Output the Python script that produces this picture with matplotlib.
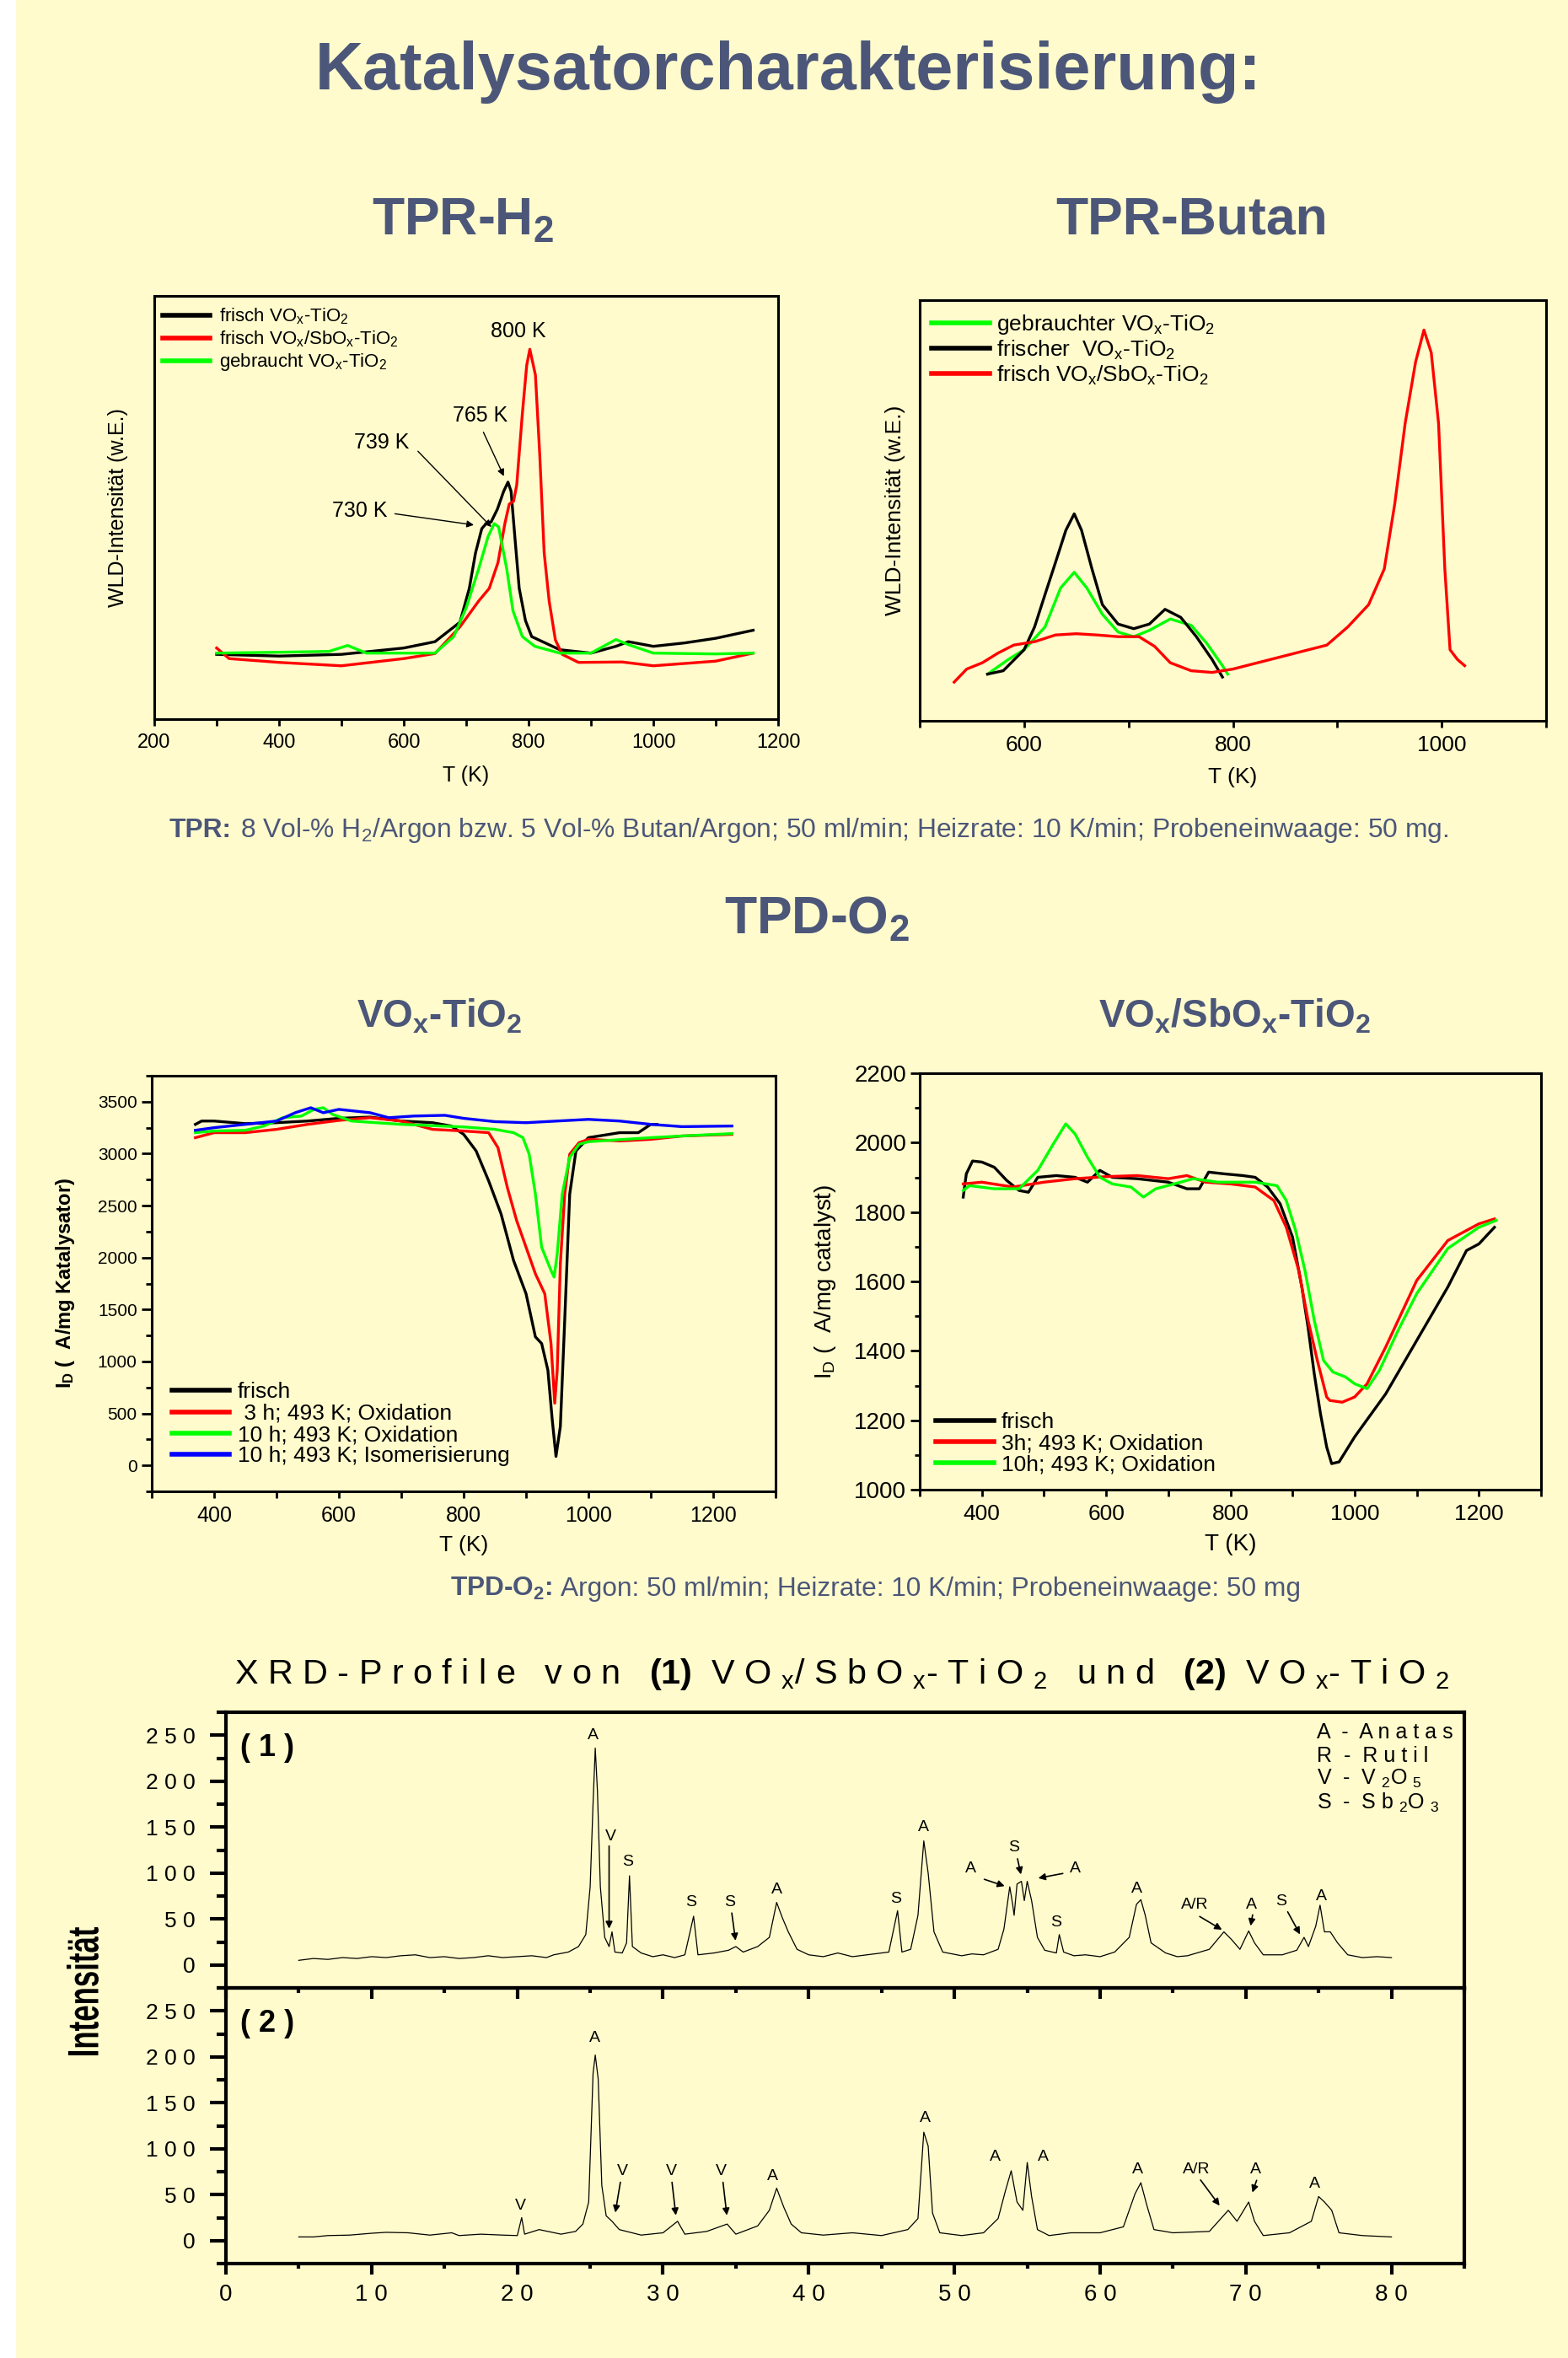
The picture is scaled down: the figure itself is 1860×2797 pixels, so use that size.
import numpy as np
import matplotlib
matplotlib.use('Agg')
import matplotlib.pyplot as plt
from matplotlib.font_manager import FontProperties
from matplotlib.textpath import TextPath
from matplotlib.patches import PathPatch, Rectangle
from matplotlib.transforms import Affine2D, IdentityTransform
from matplotlib.ticker import MultipleLocator, FuncFormatter

plt.rcParams['font.family'] = ['Liberation Sans', 'DejaVu Sans']
plt.rcParams['mathtext.fontset'] = 'custom'
plt.rcParams['mathtext.rm'] = 'Liberation Sans'
plt.rcParams['mathtext.bf'] = 'Liberation Sans:bold'
plt.rcParams['mathtext.it'] = 'Liberation Sans:italic'
plt.rcParams['mathtext.default'] = 'regular'

# TPR-H2: (T in K, signal in arbitrary units 0..100)
h2_frisch = [(300, 15.3), (400, 14.9), (500, 15.3), (600, 16.8), (650, 18.3), (690, 22.9),
             (705, 30.9), (715, 39.3), (725, 45.0), (732, 46.2), (740, 46.6), (750, 49.6),
             (760, 53.8), (767, 56.0), (772, 53.8), (778, 43.1), (785, 30.9), (795, 23.3),
             (805, 19.5), (850, 16.4), (900, 15.6), (940, 17.2), (960, 18.3), (1000, 17.2),
             (1050, 18.0), (1100, 19.1), (1160, 21.0)]
h2_sb = [(300, 16.8), (320, 14.3), (400, 13.4), (500, 12.6), (600, 14.3), (650, 15.5),
         (690, 21.8), (720, 27.9), (737, 30.9), (751, 37.0), (762, 46.2), (769, 50.8),
         (776, 51.5), (781, 55.3), (790, 72.1), (797, 83.6), (802, 87.4), (811, 81.3),
         (818, 62.2), (825, 39.3), (833, 27.9), (843, 18.7), (854, 15.3), (880, 13.4),
         (950, 13.5), (1000, 12.6), (1100, 13.7), (1160, 15.6)]
h2_gebraucht = [(300, 15.6), (400, 15.8), (480, 16.0), (510, 17.4), (540, 15.6), (600, 15.6),
                (650, 15.6), (680, 19.5), (700, 26.3), (720, 35.5), (735, 43.1), (745, 46.2),
                (752, 45.4), (765, 35.5), (775, 25.6), (790, 19.5), (810, 17.2), (850, 15.6),
                (900, 15.6), (940, 18.8), (960, 17.6), (1000, 15.6), (1100, 15.4), (1160, 15.6)]
h2_peaks = [('800 K', 783, 91.6, None, None), ('765 K', 723, 71.8, (726, 68.3), (762, 56.9)),
            ('739 K', 565, 65.3, (620, 63.7), (743, 45.0)), ('730 K', 529, 49.2, (582, 48.6), (716, 45.8))]

# TPR-Butan
bu_gebraucht = [(565, 11.1), (585, 14.6), (600, 16.9), (620, 22.3), (635, 31.6), (648, 35.3),
                (660, 31.6), (675, 25.3), (690, 21.1), (705, 20.0), (720, 21.5), (740, 24.2),
                (760, 22.7), (775, 18.4), (790, 13.1), (795, 11.1)]
bu_frisch = [(565, 11.1), (580, 11.9), (600, 16.9), (610, 22.3), (620, 30.0), (630, 37.6),
             (640, 45.3), (648, 49.2), (655, 45.3), (665, 36.1), (675, 27.6), (690, 23.0),
             (705, 21.9), (720, 23.0), (735, 26.5), (750, 24.6), (765, 20.0), (780, 14.6), (790, 10.4)]
bu_sb = [(533, 9.2), (545, 12.3), (560, 13.8), (575, 16.1), (590, 18.0), (610, 18.8), (630, 20.4),
         (650, 20.7), (670, 20.4), (690, 20.0), (710, 20.0), (725, 17.7), (740, 13.8), (760, 11.9),
         (780, 11.5), (800, 12.3), (830, 14.2), (860, 16.1), (890, 18.0), (910, 22.3), (930, 27.6),
         (945, 36.1), (955, 51.5), (965, 70.7), (975, 85.3), (983, 92.9), (990, 87.5), (997, 70.7),
         (1003, 36.1), (1008, 16.9), (1015, 14.6), (1022, 13.1)]

# TPD-O2 on VOx-TiO2 (T in K, I_D)
vt_frisch = [(370, 3282), (380, 3314), (400, 3314), (450, 3289), (500, 3298), (550, 3314),
             (600, 3340), (650, 3352), (700, 3314), (750, 3298), (780, 3266), (800, 3186),
             (820, 3026), (840, 2739), (860, 2419), (880, 1972), (900, 1652), (915, 1237),
             (925, 1173), (935, 917), (942, 438), (948, 86), (955, 374), (962, 1397), (970, 2611),
             (980, 3026), (1000, 3154), (1050, 3202), (1080, 3202), (1100, 3282), (1110, 3282)]
vt_3h = [(370, 3154), (400, 3202), (450, 3202), (500, 3234), (550, 3282), (600, 3320), (650, 3346),
         (700, 3314), (750, 3234), (800, 3218), (840, 3202), (855, 3058), (870, 2675), (885, 2355),
         (900, 2100), (915, 1844), (930, 1652), (940, 1173), (946, 598), (950, 917), (955, 1940),
         (962, 2611), (970, 2995), (985, 3106), (1000, 3138), (1050, 3122), (1100, 3138),
         (1150, 3170), (1230, 3186)]
vt_10h = [(370, 3202), (400, 3218), (450, 3225), (480, 3266), (510, 3346), (540, 3362), (560, 3426),
          (575, 3442), (590, 3378), (620, 3314), (700, 3282), (800, 3257), (850, 3234), (880, 3202),
          (895, 3154), (905, 2995), (915, 2611), (925, 2100), (940, 1876), (945, 1812), (950, 2036),
          (958, 2611), (970, 2963), (985, 3090), (1000, 3115), (1100, 3154), (1150, 3170), (1230, 3193)]
vt_iso = [(370, 3225), (400, 3250), (450, 3282), (500, 3314), (530, 3394), (555, 3442), (575, 3394),
          (600, 3426), (650, 3394), (680, 3346), (720, 3362), (770, 3369), (800, 3340), (850, 3308),
          (900, 3298), (1000, 3330), (1050, 3314), (1100, 3282), (1150, 3260), (1230, 3266)]

# TPD-O2 on VOx/SbOx-TiO2
vs_frisch = [(370, 1843), (375, 1910), (385, 1947), (400, 1944), (420, 1929), (440, 1891), (460, 1862),
             (475, 1857), (490, 1900), (520, 1905), (550, 1900), (570, 1886), (590, 1920), (610, 1900),
             (650, 1896), (700, 1886), (730, 1867), (750, 1867), (765, 1915), (790, 1910), (820, 1905),
             (840, 1900), (860, 1872), (880, 1824), (900, 1728), (915, 1584), (925, 1468), (935, 1334),
             (945, 1219), (955, 1123), (963, 1075), (975, 1080), (1000, 1152), (1050, 1276),
             (1100, 1430), (1150, 1584), (1180, 1689), (1200, 1708), (1225, 1756)]
vs_3h = [(370, 1881), (400, 1886), (450, 1872), (500, 1886), (550, 1896), (600, 1902), (650, 1905),
         (700, 1896), (730, 1905), (760, 1886), (800, 1881), (840, 1872), (870, 1833), (890, 1756),
         (910, 1632), (925, 1488), (940, 1372), (955, 1267), (960, 1257), (980, 1252), (1000, 1267),
         (1020, 1305), (1050, 1411), (1100, 1603), (1150, 1718), (1200, 1766), (1225, 1780)]
vs_10h = [(370, 1862), (380, 1876), (420, 1867), (460, 1867), (490, 1920), (515, 1996), (535, 2054),
          (550, 2025), (570, 1958), (590, 1900), (610, 1881), (640, 1872), (660, 1843), (680, 1867),
          (720, 1886), (740, 1896), (780, 1886), (840, 1886), (875, 1876), (890, 1833), (905, 1747),
          (920, 1632), (935, 1488), (950, 1372), (965, 1339), (985, 1325), (1000, 1305), (1020, 1291),
          (1040, 1344), (1070, 1459), (1100, 1565), (1150, 1695), (1200, 1756), (1228, 1776)]

# XRD (2 theta, intensity)
xrd1 = [(5.0, 5), (6, 7), (7, 6), (8, 8), (9, 7), (10, 9), (11, 8), (12, 10), (13, 11), (14, 8),
        (15, 9), (16, 7), (17, 8), (18, 10), (19, 8), (20, 9), (21, 10), (22, 8), (22.5, 11), (23.5, 14),
        (24.2, 20), (24.7, 33), (25.0, 85), (25.2, 176), (25.35, 236), (25.5, 189), (25.7, 85),
        (26.0, 30), (26.3, 20), (26.5, 36), (26.7, 14), (27.2, 13), (27.5, 24), (27.7, 97), (27.9, 20),
        (28.5, 13), (29.3, 9), (30, 11), (30.8, 8), (31.5, 11), (32.1, 53), (32.4, 11), (33.5, 13),
        (34.5, 16), (35.0, 20), (35.5, 14), (36.5, 20), (37.3, 30), (37.8, 68), (38.2, 51), (38.6, 36),
        (39.2, 17), (40, 11), (41, 9), (42, 13), (43, 9), (44, 11), (45.5, 14), (46.1, 59), (46.4, 14),
        (47.0, 17), (47.5, 54), (47.9, 135), (48.2, 100), (48.6, 36), (49.2, 14), (50.5, 10), (51.2, 12),
        (52, 11), (53.0, 17), (53.4, 39), (53.8, 85), (54.0, 66), (54.1, 54), (54.3, 88), (54.6, 91),
        (54.8, 70), (55.0, 91), (55.3, 70), (55.7, 30), (56.2, 16), (57.0, 13), (57.2, 33), (57.5, 14),
        (58.2, 10), (59, 11), (60, 9), (61, 14), (62.0, 30), (62.5, 66), (62.8, 71), (63.1, 54),
        (63.5, 24), (64.5, 13), (65.3, 9), (66, 10), (67.5, 17), (68.5, 36), (69.0, 28), (69.6, 17),
        (70.2, 37), (70.6, 24), (71.2, 11), (72.5, 11), (73.5, 16), (74.0, 30), (74.3, 20), (74.8, 42),
        (75.1, 65), (75.4, 36), (75.8, 36), (76.3, 24), (77, 11), (78, 8), (79, 9), (80, 8)]
xrd2 = [(5.0, 4), (6, 4), (7, 5.5), (8.5, 6), (10, 8), (11, 9), (12.5, 8.5), (14, 6), (15.5, 8.5),
        (16, 5.5), (17.5, 7), (19, 6), (20.0, 5.5), (20.3, 25), (20.5, 7), (21.5, 12), (23, 7), (24, 10),
        (24.5, 18), (24.9, 42), (25.2, 182), (25.35, 202), (25.55, 176), (25.8, 60), (26.1, 27),
        (26.5, 21), (27, 12), (28.5, 6), (30, 8.5), (31.0, 21), (31.5, 7), (33, 10), (34.4, 18), (35, 7),
        (36.5, 16), (37.3, 33), (37.8, 57), (38.3, 36), (38.8, 18), (39.5, 8.5), (41, 6), (43, 8.5),
        (45, 5.5), (46.8, 12), (47.5, 24), (47.9, 118), (48.2, 103), (48.5, 30), (49, 8.5), (50.5, 5.5),
        (52, 8.5), (53.0, 24), (53.5, 54), (53.9, 76), (54.3, 42), (54.7, 33), (55.0, 85), (55.3, 48),
        (55.7, 12), (56.5, 5.5), (58, 8.5), (60, 8.5), (61.6, 15), (62.4, 51), (62.8, 63), (63.2, 39),
        (63.7, 12), (65, 8.5), (67.5, 10), (68.8, 33), (69.4, 21), (70.2, 42), (70.6, 21), (71.2, 5.5),
        (73, 8.5), (74.5, 21), (75.0, 48), (75.4, 42), (75.9, 33), (76.4, 8.5), (78, 5.5), (80, 4)]
xrd1_marks = [('A', 25.2, 250), ('V', 26.4, 140), ('S', 27.6, 112), ('S', 31.9, 68), ('S', 34.6, 68),
              ('A', 37.8, 82), ('S', 46.0, 72), ('A', 47.9, 150), ('A', 51.1, 105), ('S', 54.1, 128),
              ('A', 58.3, 105), ('S', 57.0, 46), ('A', 62.5, 83), ('A/R', 66.5, 65), ('A', 70.4, 65),
              ('S', 72.4, 69), ('A', 75.2, 75)]
xrd1_arrows = [((26.3, 132), (26.3, 37)), ((34.7, 59), (35.0, 24)), ((51.9, 94), (53.6, 85)),
               ((54.3, 118), (54.6, 96)), ((57.6, 100), (55.6, 94)), ((66.7, 54), (68.5, 37)),
               ((70.5, 57), (70.3, 40)), ((72.8, 60), (73.8, 31))]
xrd2_marks = [('V', 20.2, 37.5), ('A', 25.3, 220), ('V', 27.2, 75.6), ('V', 30.6, 75.6), ('V', 34.0, 75.6),
              ('A', 37.5, 70), ('A', 48.0, 133.5), ('A', 52.8, 91), ('A', 56.1, 91), ('A', 62.6, 77),
              ('A/R', 66.6, 77), ('A', 70.7, 77), ('A', 74.7, 62)]
xrd2_arrows = [((27.1, 66), (26.7, 28)), ((30.6, 66), (30.9, 25)), ((34.1, 66), (34.4, 25)),
               ((66.8, 68), (68.3, 36)), ((70.8, 68), (70.4, 50))]
phases = ['A  -  A n a t a s', 'R  -  R u t i l', 'V  -  V $_2$O $_5$', 'S  -  S b $_2$O $_3$']

# ---------------- figure ----------------
W, H = 1860, 2797
BG = '#FFFBCC'
SLATE = '#4B5679'

fig = plt.figure(figsize=(W / 100, H / 100), dpi=100, facecolor=BG)
fig.add_artist(Rectangle((0, 0), 18 / W, 1, transform=fig.transFigure, color='white', zorder=0))
renderer = fig.canvas.get_renderer()


def place(l, t, r, b):
    ax = fig.add_axes([l / W, 1 - b / H, (r - l) / W, (b - t) / H])
    ax.set_facecolor('none')
    return ax


def xy(pairs):
    a = np.array(pairs, dtype=float)
    return a[:, 0], a[:, 1]


def head(x, y, s, size, ha='left'):
    fig.text(x / W, 1 - y / H, s, fontsize=size, fontweight='bold', color=SLATE, ha=ha, va='baseline')


def note(x, y, bold, rest, size):
    # bold lead-in followed by regular text on the same baseline
    t = fig.text(x / W, 1 - y / H, bold, fontsize=size, fontweight='bold', color=SLATE, va='baseline')
    x += t.get_window_extent(renderer).width + 0.3 * size * 100 / 72
    fig.text(x / W, 1 - y / H, rest, fontsize=size, color=SLATE, va='baseline')


head(935, 106, 'Katalysatorcharakterisierung:', 57, 'center')
head(441, 278, 'TPR-H$_2$', 45)
head(1414, 278, 'TPR-Butan', 45, 'center')
head(859, 1107, 'TPD-O$_2$', 45)
head(423, 1218, 'VO$_x$-TiO$_2$', 33)
head(1303, 1218, 'VO$_x$/SbO$_x$-TiO$_2$', 33)

note(201, 993, 'TPR:', '8 Vol-% H$_2$/Argon bzw. 5 Vol-% Butan/Argon; 50 ml/min; '
     'Heizrate: 10 K/min; Probeneinwaage: 50 mg.', 22.9)
note(534, 1893, 'TPD-O$_2$:', 'Argon: 50 ml/min; Heizrate: 10 K/min; Probeneinwaage: 50 mg', 22.8)


def frame(ax, lw=2.2):
    for s in ax.spines.values():
        s.set_linewidth(lw)


def legend(ax, loc, anchor, size, hl, pad, spacing):
    leg = ax.legend(loc=loc, bbox_to_anchor=anchor, frameon=False, fontsize=size, handlelength=hl,
                    handletextpad=pad, labelspacing=spacing, borderpad=0, borderaxespad=0)
    for ln in leg.get_lines():
        ln.set_linewidth(4)
    return leg


# ---- TPR-H2 ----
ax = place(183, 351, 923, 853)
for pairs, c, lab in [(h2_frisch, 'black', 'frisch VO$_x$-TiO$_2$'),
                      (h2_sb, 'red', 'frisch VO$_x$/SbO$_x$-TiO$_2$'),
                      (h2_gebraucht, '#00FF00', 'gebraucht VO$_x$-TiO$_2$')]:
    ax.plot(*xy(pairs), color=c, lw=2.4, label=lab)
for lab, tx, ty, tail, tip in h2_peaks:
    ax.text(tx, ty, lab, fontsize=18, ha='center', va='center')
    if tail:
        ax.annotate('', xy=tip, xytext=tail,
                    arrowprops=dict(arrowstyle='-|>', color='black', lw=1, mutation_scale=12))
ax.set_xlim(200, 1200)
ax.set_ylim(0, 100)
ax.xaxis.set_major_locator(MultipleLocator(200))
ax.xaxis.set_minor_locator(MultipleLocator(100))
ax.tick_params(axis='x', which='both', direction='out', length=6, width=2, labelsize=17, pad=6)
ax.tick_params(axis='y', left=False, labelleft=False)
ax.set_xlabel('T (K)', fontsize=18, labelpad=12)
ax.set_ylabel('WLD-Intensität (w.E.)', fontsize=18, labelpad=22)
frame(ax)
legend(ax, 'upper left', (0.0135, 0.975), 16, 2.5, 0.5, 0.15)

# ---- TPR-Butan ----
ax = place(1091, 356, 1834, 855)
for pairs, c, lab in [(bu_gebraucht, '#00FF00', 'gebrauchter VO$_x$-TiO$_2$'),
                      (bu_frisch, 'black', 'frischer  VO$_x$-TiO$_2$'),
                      (bu_sb, 'red', 'frisch VO$_x$/SbO$_x$-TiO$_2$')]:
    ax.plot(*xy(pairs), color=c, lw=2.4, label=lab)
ax.set_xlim(500, 1100)
ax.set_ylim(0, 100)
ax.xaxis.set_major_locator(MultipleLocator(200))
ax.xaxis.set_minor_locator(MultipleLocator(100))
ax.tick_params(axis='x', which='both', direction='out', length=6, width=2, labelsize=19, pad=6)
ax.tick_params(axis='y', left=False, labelleft=False)
ax.set_xlabel('T (K)', fontsize=19, labelpad=10)
ax.set_ylabel('WLD-Intensität (w.E.)', fontsize=19, labelpad=12)
frame(ax)
legend(ax, 'upper left', (0.019, 0.97), 19, 2.6, 0.3, 0.1)

# ---- TPD VOx-TiO2 ----
ax = place(180, 1276, 920, 1769)
for pairs, c, lab in [(vt_frisch, 'black', 'frisch'), (vt_3h, 'red', ' 3 h; 493 K; Oxidation'),
                      (vt_10h, '#00FF00', '10 h; 493 K; Oxidation'),
                      (vt_iso, 'blue', '10 h; 493 K; Isomerisierung')]:
    ax.plot(*xy(pairs), color=c, lw=2.4, label=lab)
ax.set_xlim(300, 1300)
ax.set_ylim(-250, 3750)
ax.xaxis.set_major_locator(MultipleLocator(200))
ax.xaxis.set_minor_locator(MultipleLocator(100))
ax.yaxis.set_major_locator(MultipleLocator(500))
ax.yaxis.set_minor_locator(MultipleLocator(250))
ax.tick_params(axis='x', which='both', direction='out', length=6, width=2, labelsize=18, pad=6)
ax.tick_params(axis='y', which='major', direction='out', length=9, width=2, labelsize=15)
ax.tick_params(axis='y', which='minor', direction='out', length=5, width=2)
ax.set_xlabel('T (K)', fontsize=19, labelpad=8)
ax.set_ylabel('I$_D$ (  A/mg Katalysator)', fontsize=17, fontweight='bold', labelpad=18)
frame(ax)
legend(ax, 'lower left', (0.032, 0.06), 19, 2.6, 0.35, 0.05)

# ---- TPD VOx/SbOx-TiO2 ----
ax = place(1091, 1273, 1828, 1767)
for pairs, c, lab in [(vs_frisch, 'black', 'frisch'), (vs_3h, 'red', '3h; 493 K; Oxidation'),
                      (vs_10h, '#00FF00', '10h; 493 K; Oxidation')]:
    ax.plot(*xy(pairs), color=c, lw=2.4, label=lab)
ax.set_xlim(300, 1300)
ax.set_ylim(1000, 2200)
ax.xaxis.set_major_locator(MultipleLocator(200))
ax.xaxis.set_minor_locator(MultipleLocator(100))
ax.yaxis.set_major_locator(MultipleLocator(200))
ax.yaxis.set_minor_locator(MultipleLocator(100))
ax.tick_params(axis='x', which='both', direction='out', length=6, width=2, labelsize=19, pad=6)
ax.tick_params(axis='y', which='major', direction='out', length=8, width=2, labelsize=20)
ax.tick_params(axis='y', which='minor', direction='out', length=4, width=2)
ax.set_xlabel('T (K)', fontsize=20, labelpad=8)
ax.set_ylabel('I$_D$ (  A/mg catalyst)', fontsize=20, labelpad=14)
frame(ax)
legend(ax, 'lower left', (0.026, 0.035), 19, 2.6, 0.35, 0.05)

# ---- XRD ----
fig.text(278 / W, 1 - 1997 / H,
         r'X R D - P r o f i l e   v o n   $\mathbf{(1)}$  V O $_x$/ S b O $_x$- T i O $_2$   u n d   '
         r'$\mathbf{(2)}$  V O $_x$- T i O $_2$', fontsize=29.8, va='baseline')

spaced = FuncFormatter(lambda v, p: ' '.join(f'{v:.0f}'))
ax1 = place(268, 2031, 1737, 2358)
ax2 = place(268, 2358, 1737, 2685)
for ax, pairs, marks, arrows, tag in [(ax1, xrd1, xrd1_marks, xrd1_arrows, '( 1 )'),
                                      (ax2, xrd2, xrd2_marks, xrd2_arrows, '( 2 )')]:
    ax.plot(*xy(pairs), color='black', lw=0.9)
    for lab, mx, my in marks:
        ax.text(mx, my, lab, fontsize=14, ha='center', va='center')
    for tail, tip in arrows:
        ax.annotate('', xy=tip, xytext=tail,
                    arrowprops=dict(arrowstyle='-|>', color='black', lw=1.2, mutation_scale=12))
    ax.text(1.0, 236, tag, fontsize=26, fontweight='bold', va='center')
    ax.set_xlim(0, 85)
    ax.set_ylim(-25, 275)
    ax.xaxis.set_major_locator(MultipleLocator(10))
    ax.xaxis.set_minor_locator(MultipleLocator(5))
    ax.yaxis.set_major_locator(MultipleLocator(50))
    ax.yaxis.set_minor_locator(MultipleLocator(25))
    ax.yaxis.set_major_formatter(spaced)
    ax.xaxis.set_major_formatter(spaced)
    ax.tick_params(axis='y', which='major', direction='out', length=14, width=3, labelsize=19, pad=12)
    ax.tick_params(axis='y', which='minor', direction='out', length=8, width=3)
    ax.tick_params(axis='x', which='major', direction='out', length=9, width=3, labelsize=20, pad=8)
    ax.tick_params(axis='x', which='minor', direction='out', length=4, width=3)
    frame(ax, 3)
ax1.tick_params(axis='x', labelbottom=False)
for i, s in enumerate(phases):
    ax1.text(74.9, 253 - 25.4 * i, s, fontsize=18, va='center')

# rotated, condensed "Intensität" label
tp = TextPath((0, 0), 'Intensität', size=100, prop=FontProperties(family='Liberation Sans', weight='bold'))
ext = tp.get_extents()
tr = (Affine2D().translate(-(ext.x0 + ext.x1) / 2, -(ext.y0 + ext.y1) / 2)
      .scale(152 / ext.width, 38 / ext.height).rotate_deg(90).translate(98, H - 2362))
fig.add_artist(PathPatch(tr.transform_path(tp), transform=IdentityTransform(), color='black', lw=0))

fig.savefig('out.png', dpi=100, facecolor=BG)
